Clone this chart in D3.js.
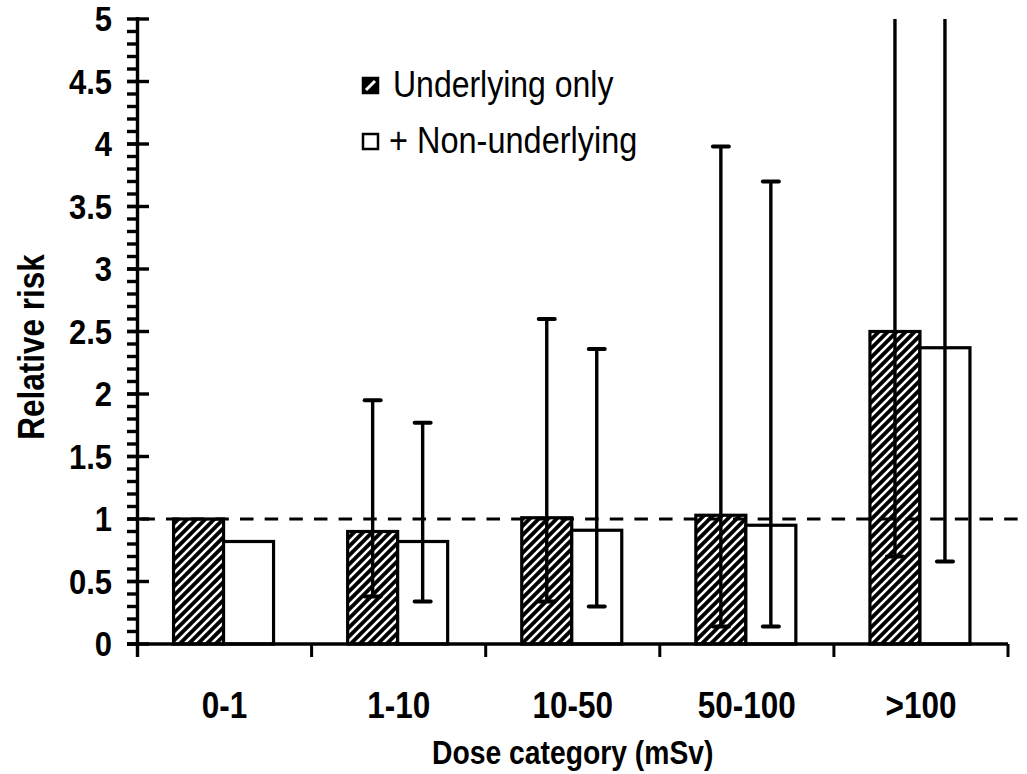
<!DOCTYPE html>
<html>
<head>
<meta charset="utf-8">
<script src="https://cdn.jsdelivr.net/npm/d3@7/dist/d3.min.js"></script>
<style>
  html, body { margin: 0; padding: 0; background: #fff; }
  text { font-family: Arial, "Liberation Sans", sans-serif; fill: #000; }
</style>
</head>
<body>
<svg id="chart" width="1027" height="774"></svg>
<script>
// ---------- data ----------
const categories = ["0-1", "1-10", "10-50", "50-100", ">100"];
const underlying = [1.00, 0.90, 1.01, 1.03, 2.50];
const nonUnderlying = [0.82, 0.82, 0.91, 0.95, 2.37];
const underlyingLow = [null, 0.38, 0.34, 0.14, 0.70];
const underlyingHigh = [null, 1.95, 2.60, 3.98, 6.5];
const nonUnderlyingLow = [null, 0.34, 0.30, 0.14, 0.66];
const nonUnderlyingHigh = [null, 1.77, 2.36, 3.70, 6.2];
const yTicks = [0, 0.5, 1, 1.5, 2, 2.5, 3, 3.5, 4, 4.5, 5];
const yTickLabels = ["0", "0.5", "1", "1.5", "2", "2.5", "3", "3.5", "4", "4.5", "5"];
const seriesNames = ["Underlying only", "+ Non-underlying"];
const referenceValue = 1;

(function () {
const svg = d3.select("#chart");
const STRETCH = 1.15;
const pLeft = 137.5, pRight = 1008, pTop = 19, pBottom = 644;

const x = d3.scaleBand().domain(categories).range([pLeft, pRight]).padding(0);
const xs = d3.scaleBand().domain(["u", "n"]).range([-51, 49]).padding(0);
const y = d3.scaleLinear().domain([0, 5]).range([pBottom, pTop]).clamp(true);

const defs = svg.append("defs");
const pat = defs.append("pattern")
  .attr("id", "hatch").attr("patternUnits", "userSpaceOnUse")
  .attr("width", 9).attr("height", 9);
pat.append("rect").attr("width", 9).attr("height", 9).attr("fill", "#000");
pat.append("path")
  .attr("d", "M-1,10 L10,-1 M-3,3 L3,-3 M6,12 L12,6")
  .attr("stroke", "#fff").attr("stroke-width", 2.6);

const c = (i) => x(categories[i]) + x.bandwidth() / 2;

const data = categories.map((cat, i) => ({
  cat, i,
  u: underlying[i], n: nonUnderlying[i],
  uLo: underlyingLow[i], uHi: underlyingHigh[i],
  nLo: nonUnderlyingLow[i], nHi: nonUnderlyingHigh[i]
}));

const gBars = svg.append("g");
data.forEach(d => {
  gBars.append("rect")
    .attr("x", c(d.i) + xs("u"))
    .attr("y", y(d.u))
    .attr("width", xs.bandwidth())
    .attr("height", y(0) - y(d.u))
    .attr("fill", "url(#hatch)")
    .attr("stroke", "#000").attr("stroke-width", 3.2);
  gBars.append("rect")
    .attr("x", c(d.i) + xs("n"))
    .attr("y", y(d.n))
    .attr("width", xs.bandwidth())
    .attr("height", y(0) - y(d.n))
    .attr("fill", "#fff")
    .attr("stroke", "#000").attr("stroke-width", 3.2);
});

const gErr = svg.append("g").attr("stroke", "#000").attr("stroke-linecap", "round");
function errBar(cx, lo, hi) {
  if (lo == null) return;
  gErr.append("line").attr("x1", cx).attr("x2", cx)
    .attr("y1", y(lo)).attr("y2", y(hi)).attr("stroke-width", 3.4).attr("stroke-linecap", "butt");
  [lo, hi].forEach(v => {
    if (v > 5) return;
    gErr.append("line").attr("x1", cx - 8).attr("x2", cx + 8)
      .attr("y1", y(v)).attr("y2", y(v)).attr("stroke-width", 4);
  });
}
data.forEach(d => {
  errBar(c(d.i) + xs("u") + xs.bandwidth() / 2, d.uLo, d.uHi);
  errBar(c(d.i) + xs("n") + xs.bandwidth() / 2, d.nLo, d.nHi);
});

svg.append("line")
  .attr("x1", 141.4).attr("x2", 1018)
  .attr("y1", y(referenceValue)).attr("y2", y(referenceValue))
  .attr("stroke", "#000").attr("stroke-width", 3)
  .attr("stroke-dasharray", "13.5,11.15");

const gAx = svg.append("g").attr("stroke", "#000").attr("stroke-width", 3);
gAx.append("line").attr("x1", pLeft).attr("x2", pLeft).attr("y1", 17).attr("y2", 657).attr("stroke-width", 3.4);
d3.range(0, 50).map(k => k / 10).forEach(v => {
  gAx.append("line").attr("x1", 127).attr("x2", pLeft).attr("y1", y(v)).attr("y2", y(v)).attr("stroke-width", 3.4);
});
yTicks.forEach(v => {
  gAx.append("line").attr("x1", 127).attr("x2", 149).attr("y1", y(v)).attr("y2", y(v)).attr("stroke-width", 3.4);
});
gAx.append("line").attr("x1", 127).attr("x2", pRight).attr("y1", y(0)).attr("y2", y(0)).attr("stroke-width", 3.6);
categories.forEach((cat, i) => {
  const bx = x(cat) + x.bandwidth();
  gAx.append("line").attr("x1", bx).attr("x2", bx).attr("y1", y(0)).attr("y2", 657);
});

yTicks.forEach((v, i) => {
  svg.append("g").attr("transform", `translate(112,${y(v) + 12}) scale(1,${STRETCH})`)
    .append("text").attr("text-anchor", "end")
    .attr("font-size", 31).attr("font-weight", "bold")
    .text(yTickLabels[i]);
});

categories.forEach((cat, i) => {
  svg.append("g").attr("transform", `translate(${c(i)},718) scale(1,${STRETCH})`)
    .append("text").attr("text-anchor", "middle")
    .attr("font-size", 31.5).attr("font-weight", "bold")
    .text(cat);
});

svg.append("g").attr("transform", `translate(${(pLeft + pRight) / 2},764) scale(1,${STRETCH})`)
  .append("text").attr("text-anchor", "middle")
  .attr("font-size", 28.3).attr("font-weight", "bold")
  .text("Dose category (mSv)");

svg.append("g").attr("transform", `translate(44,347) rotate(-90) scale(1,1.2)`)
  .append("text").attr("text-anchor", "middle")
  .attr("font-size", 31.5).attr("font-weight", "bold")
  .text("Relative risk");

const lg = svg.append("g");
lg.append("rect").attr("x", 363).attr("y", 78).attr("width", 15).attr("height", 15)
  .attr("fill", "#000").attr("stroke", "#000").attr("stroke-width", 2.5);
lg.append("line").attr("x1", 366).attr("y1", 90).attr("x2", 375).attr("y2", 81)
  .attr("stroke", "#fff").attr("stroke-width", 3);
lg.append("rect").attr("x", 363).attr("y", 134).attr("width", 15).attr("height", 15)
  .attr("fill", "#fff").attr("stroke", "#000").attr("stroke-width", 2.5);

lg.append("g").attr("transform", `translate(393,97) scale(1,${STRETCH})`)
  .append("text").attr("font-size", 32).text(seriesNames[0]);
lg.append("g").attr("transform", `translate(389,153) scale(1,${STRETCH})`)
  .append("text").attr("font-size", 32.5).text(seriesNames[1]);
})();
</script>
</body>
</html>
